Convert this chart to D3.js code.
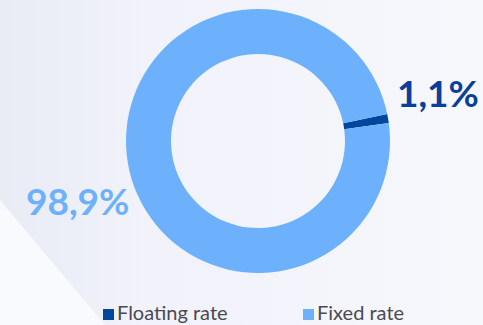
<!DOCTYPE html>
<html>
<head>
<meta charset="utf-8">
<script src="https://cdn.jsdelivr.net/npm/d3@7"></script>
<style>
  html, body { margin: 0; padding: 0; overflow: hidden; }
  svg { display: block; }
</style>
</head>
<body>
<svg></svg>
<script>
var width = 483,
  height = 325;

// data
var categories = ["Floating rate", "Fixed rate"];
var values = [1.1, 98.9];
var labels = ["1,1%", "98,9%"];
var colors = ["#02479e", "#6db1fd"];
var labelColors = ["#0a3f9a", "#6db1fd"];

var svg = d3.select("svg")
  .attr("width", width)
  .attr("height", height);

// background
var defs = svg.append("defs");
var grad = defs.append("linearGradient")
  .attr("id", "bg")
  .attr("x1", "0").attr("x2", "1").attr("y1", "0").attr("y2", "0");
grad.append("stop").attr("offset", "0").attr("stop-color", "#e9ecf5");
grad.append("stop").attr("offset", "0.3").attr("stop-color", "#f1f2fa");
grad.append("stop").attr("offset", "1").attr("stop-color", "#f7f8fc");

svg.append("rect")
  .attr("width", width)
  .attr("height", height)
  .attr("fill", "url(#bg)");

svg.append("path")
  .attr("d", "M0,200 L105,325 L0,325 Z")
  .attr("fill", "#f9fafd");

// donut
var cx = 258, cy = 141,
  outerR = 132, innerR = 87;

var pie = d3.pie()
  .sort(null)
  .startAngle(78.2 * Math.PI / 180)
  .endAngle(78.2 * Math.PI / 180 + 2 * Math.PI);

var arc = d3.arc()
  .innerRadius(innerR)
  .outerRadius(outerR);

var g = svg.append("g")
  .attr("transform", "translate(" + cx + "," + cy + ")");

g.selectAll("path.slice")
  .data(pie(values))
  .enter().append("path")
  .attr("class", "slice")
  .attr("d", arc)
  .attr("fill", function(d, i) { return colors[i]; });

// value labels
var labelPos = [[397, 107], [26, 215]];
svg.selectAll("text.val")
  .data(labels)
  .enter().append("text")
  .attr("class", "val")
  .attr("x", function(d, i) { return labelPos[i][0]; })
  .attr("y", function(d, i) { return labelPos[i][1]; })
  .attr("fill", function(d, i) { return labelColors[i]; })
  .style("font-family", "Lato, sans-serif")
  .style("font-weight", "bold")
  .style("font-size", "37px")
  .text(function(d) { return d; });

// legend
var legendX = [103, 303];
var legend = svg.selectAll("g.legend")
  .data(categories)
  .enter().append("g")
  .attr("class", "legend")
  .attr("transform", function(d, i) { return "translate(" + legendX[i] + ",309)"; });

legend.append("rect")
  .attr("width", 11)
  .attr("height", 11)
  .attr("fill", function(d, i) { return colors[i]; });

legend.append("text")
  .attr("x", 14)
  .attr("y", 11)
  .attr("fill", "#4a4a4f")
  .style("font-family", "Lato, sans-serif")
  .style("font-size", "20px")
  .text(function(d) { return d; });
</script>
</body>
</html>
